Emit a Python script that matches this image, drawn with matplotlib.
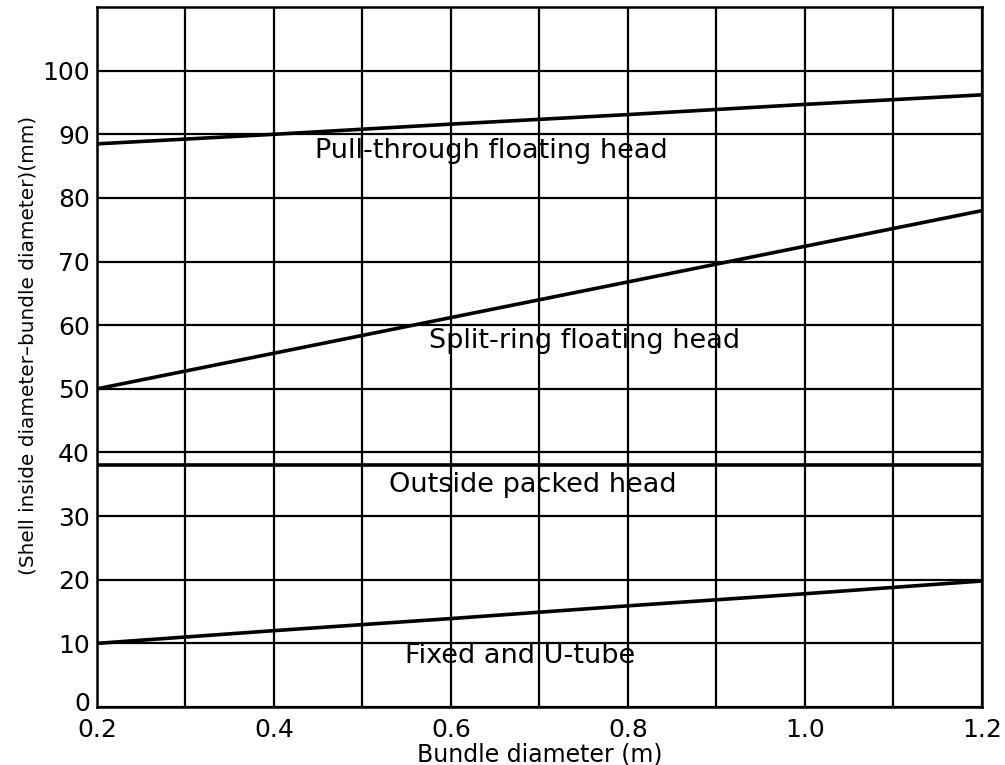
import numpy as np
import matplotlib.pyplot as plt
from matplotlib.transforms import ScaledTranslation

plt.rcParams['font.family'] = ['DejaVu Sans']

# Shell clearance curves
bundle_d = [0.2, 0.4, 0.6, 0.8, 1.0, 1.2]
pull_through = [88.5, 90.0, 91.6, 93.1, 94.7, 96.2]
split_ring = [50.0, 55.6, 61.2, 66.8, 72.4, 78.0]
outside_packed = [38.0, 38.0, 38.0, 38.0, 38.0, 38.0]
fixed_utube = [10.0, 12.0, 13.9, 15.9, 17.8, 19.8]

curve_names = ['Pull-through floating head', 'Split-ring floating head',
               'Outside packed head', 'Fixed and U-tube']
label_x = [0.646, 0.751, 0.692, 0.678]
label_y = [86.3, 56.4, 33.8, 6.9]

x_ticks = [0.2, 0.4, 0.6, 0.8, 1.0, 1.2]
y_ticks = [0, 10, 20, 30, 40, 50, 60, 70, 80, 90, 100]

fig = plt.figure(figsize=(10.05, 7.65), dpi=100)
ax = fig.add_axes([0.0965, 0.0758, 0.8805, 0.915])

for ys in (pull_through, split_ring, outside_packed, fixed_utube):
    ax.plot(bundle_d, ys, color='black', linewidth=2.6, solid_capstyle='butt')

for name, tx, ty in zip(curve_names, label_x, label_y):
    ax.text(tx, ty, name, ha='center', va='baseline', fontsize=19.5)

ax.set_xlim(0.2, 1.2)
ax.set_ylim(0, 110)
ax.set_xticks(x_ticks)
ax.set_xticklabels(['0.2', '0.4', '0.6', '0.8', '1.0', '1.2'])
ax.set_xticks(np.arange(0.3, 1.2, 0.2), minor=True)
ax.set_yticks(y_ticks)
ax.grid(which='both', color='black', linewidth=1.6)
ax.tick_params(which='both', length=0, labelsize=18)
ax.tick_params(axis='x', pad=8)
ax.tick_params(axis='y', pad=5)
for s in ax.spines.values():
    s.set_linewidth(1.8)

# lift the "0" a little so it clears the "0.2" below it
zero_lab = ax.yaxis.get_major_ticks()[0].label1
zero_lab.set_transform(zero_lab.get_transform() +
                       ScaledTranslation(0, 0.06, fig.dpi_scale_trans))

ax.set_xlabel('Bundle diameter (m)', fontsize=17, labelpad=0)
ax.set_ylabel('(Shell inside diameter\u2013bundle diameter)(mm)', fontsize=14.4)
ax.yaxis.set_label_coords(-0.067, 0.517)

fig.savefig('out.png', dpi=100)
